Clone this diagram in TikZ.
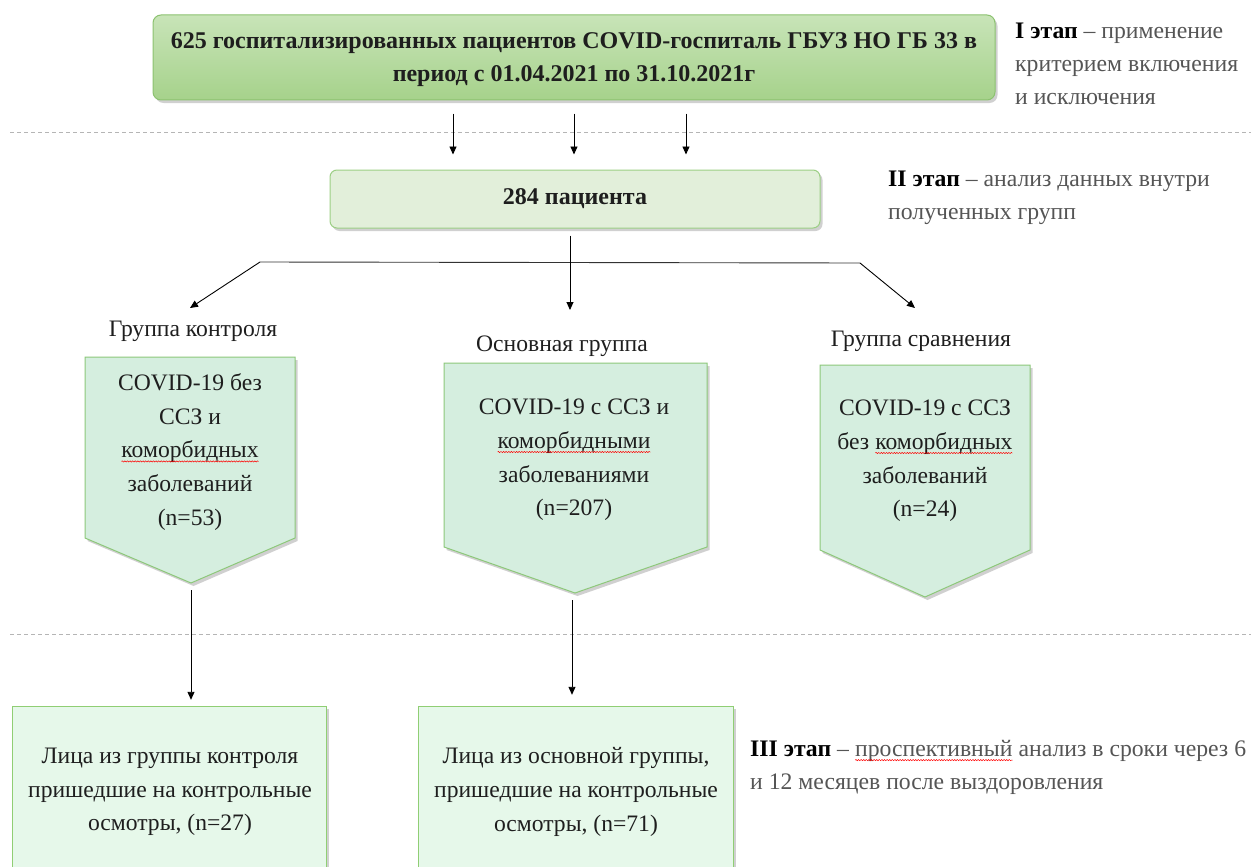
\documentclass[tikz,border=0pt]{standalone}
\usepackage{fontspec}
\setmainfont{Liberation Serif}
\usetikzlibrary{arrows.meta,shadows,calc,decorations.pathmorphing}
\definecolor{topA}{HTML}{C8E4B8}
\definecolor{topB}{HTML}{A6D28B}
\definecolor{topE}{HTML}{8CC270}
\definecolor{midF}{HTML}{E2EFDA}
\definecolor{midE}{HTML}{9CCF85}
\definecolor{penF}{HTML}{D5EEDF}
\definecolor{penE}{HTML}{8DC87A}
\definecolor{botF}{HTML}{E6F8EA}
\definecolor{botE}{HTML}{90CE74}
\definecolor{txt}{HTML}{1E1E1E}
\definecolor{greytxt}{HTML}{555555}
\definecolor{dashc}{HTML}{B5B5B5}
\newcommand\redwave[2][txt]{\tikz[baseline=(redw.base)]{\node[inner sep=0pt, outer sep=0pt, text=#1] (redw) {#2};
  \draw[red, line width=0.5pt, decorate, decoration={snake, amplitude=0.6pt, segment length=2.6pt}] ([yshift=-3.5pt]redw.base west) -- ([yshift=-3.5pt]redw.base east);}}
\tikzset{
  shad/.style={drop shadow={shadow xshift=2.5pt, shadow yshift=-3pt, opacity=0.3, fill=black!60}},
  topbox/.style={shad, draw=topE, line width=1pt, rounded corners=8pt, top color=topA, bottom color=topB,
     text=txt, align=center, font=\fontsize{24}{33}\selectfont\bfseries},
  midbox/.style={shad, draw=midE, line width=1pt, rounded corners=7pt, fill=midF,
     text=txt, align=center, font=\fontsize{24}{30}\selectfont\bfseries},
  pent/.style={shad, draw=penE, line width=1pt, fill=penF},
  bottombox/.style={shad, draw=botE, line width=1pt, fill=botF},
  boxtext/.style={text=txt, align=center, font=\fontsize{23.6}{33.6}\selectfont, inner sep=0pt},
  grouplabel/.style={text=txt, font=\fontsize{23.6}{28}\selectfont, inner sep=0pt},
  stagetext/.style={text=greytxt, align=left, anchor=west, font=\fontsize{23.7}{33}\selectfont, inner sep=0pt},
  arr/.style={draw=black, line width=0.9pt, -{Triangle[width=7pt,length=8pt]}},
  conn/.style={draw=black!80, line width=0.9pt},
  dashline/.style={draw=dashc, line width=0.9pt, dash pattern=on 4pt off 3pt}
}
\begin{document}
\begin{tikzpicture}[x=1pt,y=-1pt]
\useasboundingbox (0,0) rectangle (1251,867);
\fill[white] (0,0) rectangle (1251,867);

% dashed separators
\coordinate (d1l) at (10,132); \coordinate (d1r) at (1251,132);
\coordinate (d2l) at (10,634); \coordinate (d2r) at (1251,634);
\draw[dashline] (d1l) -- (d1r);
\draw[dashline] (d2l) -- (d2r);

% top box
\node[topbox, minimum width=842pt, minimum height=85pt] (top) at (574,57.5) {};
\node[text=txt, align=center, font=\fontsize{24}{33}\selectfont\bfseries, inner sep=0pt] (toptext) at (574,60)
  {625 госпитализированных пациентов COVID-госпиталь ГБУЗ НО ГБ 33 в\\период с 01.04.2021 по 31.10.2021г};

% stage I text
\node[stagetext] (s1) at (1015,64) {\textcolor{black}{\bfseries I этап} – применение\\критерием включения\\и исключения};

% mid box
\node[midbox, minimum width=490pt, minimum height=58pt] (mid) at (575,199) {284 пациента};

\node[stagetext] (s2) at (888,197.5) {\textcolor{black}{\bfseries II этап} – анализ данных внутри\\полученных групп};

% arrows top -> mid
\foreach \dx in {-121,0,112}{
  \draw[arr, shorten <=13pt, shorten >=15pt] ([xshift=\dx pt]top.south) -- ([xshift=\dx pt]top.south |- mid.north);
}

% split
\coordinate (split) at (570,262);
\coordinate (lj) at (260,262);
\coordinate (rj) at (860,263);
\coordinate (a1) at (190,308);
\coordinate (a2) at (570,310);
\coordinate (a3) at (915,308);
\draw[conn] (lj) -- (rj);
\draw[arr, shorten <=7pt] (mid.south -| split) -- (a2);
\draw[arr] (lj) -- (a1);
\draw[arr] (rj) -- (a3);

% group labels
\node[grouplabel] (g1) at (193,331) {Группа контроля};
\node[grouplabel] (g2) at (562,346) {Основная группа};
\node[grouplabel] (g3) at (921,341) {Группа сравнения};

% pentagons
\draw[pent] (85,357) -- (295,357) -- (295,538) -- (191,583) -- (85,538) -- cycle;
\coordinate (p1tip) at (191,583);
\node[boxtext] (p1) at (190,452) {COVID-19 без\\ССЗ и\\\redwave{коморбидных}\\заболеваний\\(n=53)};

\draw[pent] (444,363) -- (707,363) -- (707,547) -- (575,593) -- (444,547) -- cycle;
\coordinate (p2tip) at (572,593);
\node[boxtext] (p2) at (574,460) {COVID-19 с ССЗ и\\\redwave{коморбидными}\\заболеваниями\\(n=207)};

\draw[pent] (820,365) -- (1030,365) -- (1030,550) -- (925,597) -- (820,550) -- cycle;
\node[boxtext] (p3) at (925,461) {COVID-19 с ССЗ\\без \redwave{коморбидных}\\заболеваний\\(n=24)};

% bottom boxes
\draw[bottombox] (12,706) rectangle (326,880);
\node[minimum width=314pt, minimum height=161pt, inner sep=0pt] (b1) at (169,786.5) {};
\node[boxtext] (b1t) at (170,792) {Лица из группы контроля\\пришедшие на контрольные\\осмотры, (n=27)};

\draw[bottombox] (418,706) rectangle (733,880);
\node[minimum width=315pt, minimum height=161pt, inner sep=0pt] (b2) at (575.5,786.5) {};
\node[boxtext] (b2t) at (576,792) {Лица из основной группы,\\пришедшие на контрольные\\осмотры, (n=71)};

\draw[arr, shorten <=7pt, shorten >=6pt] (p1tip) -- (p1tip |- b1.north);
\draw[arr, shorten <=7pt, shorten >=11pt] (p2tip) -- (p2tip |- b2.north);

\node[stagetext] (s3) at (750,767.5) {\textcolor{black}{\bfseries III этап} – \redwave[greytxt]{проспективный} анализ в сроки через 6\\и 12 месяцев после выздоровления};
\end{tikzpicture}
\end{document}
